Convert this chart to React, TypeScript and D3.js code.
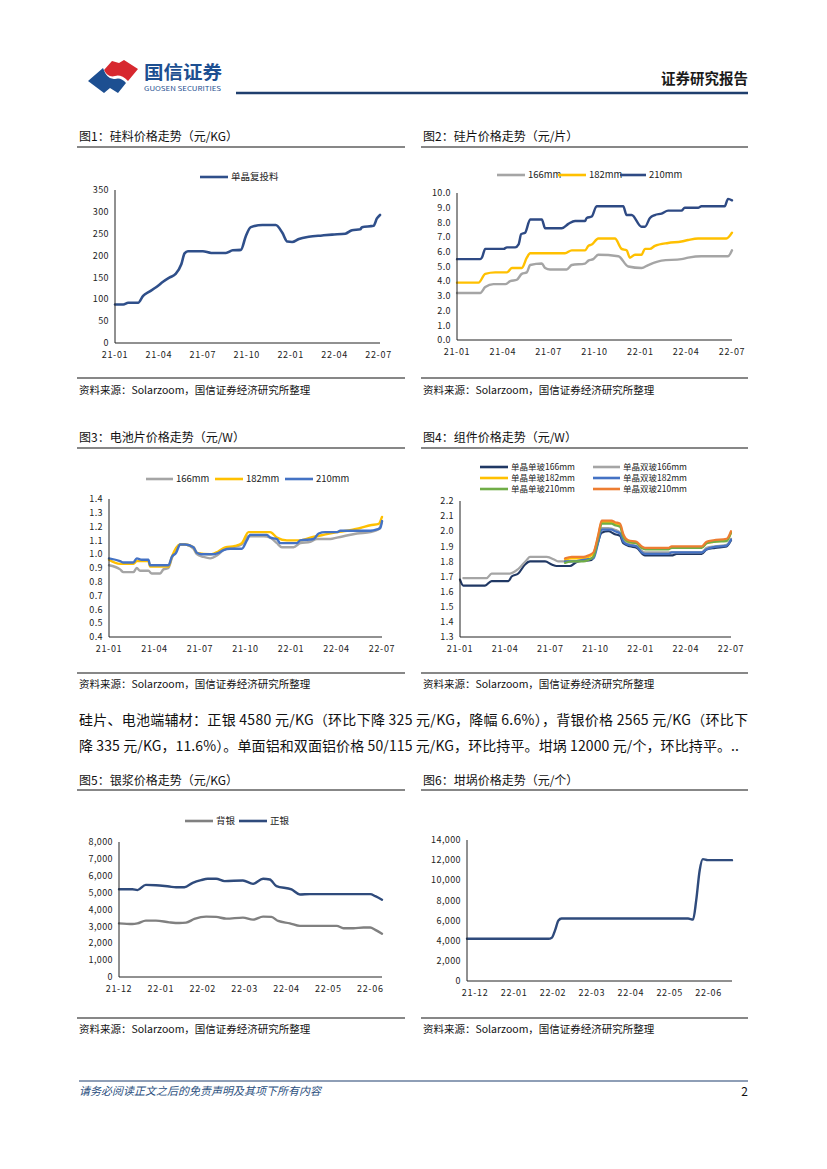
import React from 'react';
import * as d3 from 'd3';

const FONT = '"Noto Sans CJK SC", "Noto Sans", sans-serif';

type Pt = [number, number];
type Series = { name: string; color: string; data: Pt[] };

// ---------- Chart 1: 硅料 ----------
const c1XLabels = ['21-01', '21-04', '21-07', '21-10', '22-01', '22-04', '22-07'];
const c1YTicks = [0, 50, 100, 150, 200, 250, 300, 350];
const c1Mono: Pt[] = [[0, 88], [0.57, 88], [0.9, 92], [1.58, 92], [1.92, 108], [2.38, 118], [2.83, 128], [3.28, 140], [3.74, 150], [4.14, 158], [4.53, 180], [4.75, 205], [4.98, 210], [6.0, 210], [6.57, 206], [7.58, 206], [8.04, 212], [8.6, 213], [8.94, 245], [9.28, 265], [10.07, 270], [10.98, 270], [11.43, 252], [11.77, 232], [12.1, 231], [12.56, 238], [13.24, 243], [14.15, 246], [14.83, 248], [15.73, 250], [16.19, 258], [16.75, 260], [16.87, 265], [17.66, 268], [17.89, 285], [18.1, 293]];

// ---------- Chart 2: 硅片 ----------
const c2YTicks = [0, 1, 2, 3, 4, 5, 6, 7, 8, 9, 10];
const c2W166: Pt[] = [[0, 3.2], [1.52, 3.2], [1.85, 3.6], [2.39, 3.8], [3.16, 3.8], [3.48, 4.0], [3.92, 4.1], [4.24, 4.5], [4.57, 4.6], [4.79, 5.1], [5.55, 5.2], [5.77, 4.9], [6.09, 4.8], [7.18, 4.8], [7.51, 5.1], [8.38, 5.2], [8.6, 5.4], [8.92, 5.5], [9.25, 5.8], [10.56, 5.7], [11.21, 5.0], [12.08, 4.9], [12.52, 5.1], [13.39, 5.4], [14.69, 5.5], [15.13, 5.6], [16.0, 5.7], [17.74, 5.7], [18.0, 6.1]];
const c2W182: Pt[] = [[0, 3.9], [1.41, 3.9], [1.85, 4.5], [2.5, 4.6], [3.27, 4.6], [3.59, 4.9], [4.24, 4.9], [4.57, 5.6], [4.79, 5.9], [7.07, 5.9], [7.51, 6.1], [8.38, 6.1], [8.6, 6.4], [8.82, 6.5], [9.25, 6.9], [10.34, 6.9], [10.77, 6.2], [11.1, 6.1], [11.32, 5.6], [11.65, 5.8], [12.08, 5.8], [12.3, 6.2], [12.63, 6.2], [12.95, 6.4], [13.82, 6.6], [14.69, 6.7], [15.13, 6.8], [15.78, 6.9], [17.63, 6.9], [18.0, 7.3]];
const c2W210: Pt[] = [[0, 5.5], [1.52, 5.5], [1.63, 5.6], [1.85, 6.2], [3.05, 6.2], [3.27, 6.3], [3.81, 6.3], [4.03, 6.5], [4.2, 7.2], [4.46, 7.3], [4.79, 8.2], [5.55, 8.2], [5.77, 7.6], [6.86, 7.6], [7.29, 7.9], [7.73, 8.1], [8.38, 8.1], [8.49, 8.3], [8.82, 8.4], [9.14, 9.1], [10.88, 9.1], [11.1, 8.5], [11.43, 8.5], [12.08, 7.7], [12.3, 7.7], [12.63, 8.3], [12.95, 8.5], [13.39, 8.6], [13.82, 8.8], [14.69, 8.8], [14.91, 9.0], [15.78, 9.0], [16.0, 9.1], [17.52, 9.1], [17.74, 9.6], [18.0, 9.5]];

// ---------- Chart 3: 电池片 ----------
const c3YTicks = [0.4, 0.5, 0.6, 0.7, 0.8, 0.9, 1.0, 1.1, 1.2, 1.3, 1.4];
const c3C166: Pt[] = [[0, 0.92], [0.73, 0.89], [0.95, 0.87], [1.61, 0.87], [1.83, 0.9], [2.05, 0.88], [2.6, 0.88], [2.82, 0.86], [3.37, 0.86], [3.59, 0.89], [3.92, 0.9], [4.14, 0.97], [4.69, 1.07], [5.02, 1.07], [5.57, 1.04], [5.79, 1.0], [6.23, 0.98], [6.67, 0.97], [7.11, 0.99], [7.55, 1.03], [8.1, 1.05], [8.76, 1.07], [9.2, 1.13], [10.19, 1.13], [10.63, 1.12], [11.07, 1.08], [11.4, 1.05], [12.17, 1.05], [12.61, 1.08], [13.27, 1.09], [13.71, 1.11], [14.59, 1.11], [15.03, 1.12], [15.47, 1.13], [16.35, 1.15], [17.23, 1.16], [17.78, 1.18], [18.0, 1.24]];
const c3C182: Pt[] = [[0, 0.96], [0.73, 0.93], [1.61, 0.93], [1.83, 0.95], [2.6, 0.95], [2.71, 0.91], [3.92, 0.91], [4.14, 0.98], [4.69, 1.07], [5.02, 1.07], [5.57, 1.05], [5.79, 1.01], [6.67, 1.0], [7.22, 1.02], [7.66, 1.05], [8.32, 1.06], [8.76, 1.08], [9.2, 1.16], [10.63, 1.16], [11.07, 1.12], [11.73, 1.1], [12.61, 1.1], [13.27, 1.12], [14.15, 1.14], [15.03, 1.16], [15.69, 1.17], [16.13, 1.18], [16.57, 1.19], [17.23, 1.21], [17.78, 1.22], [18.0, 1.27]];
const c3C210: Pt[] = [[0, 0.97], [0.73, 0.95], [0.95, 0.94], [1.61, 0.94], [1.83, 0.97], [2.16, 0.96], [2.6, 0.96], [2.71, 0.92], [3.92, 0.92], [4.14, 0.98], [4.42, 1.01], [4.69, 1.07], [5.02, 1.07], [5.57, 1.05], [5.79, 1.01], [6.12, 1.0], [6.89, 1.0], [7.22, 1.01], [7.55, 1.03], [7.99, 1.04], [8.76, 1.04], [9.09, 1.1], [9.31, 1.14], [10.41, 1.14], [10.63, 1.12], [11.07, 1.11], [11.29, 1.08], [12.39, 1.08], [12.61, 1.1], [13.49, 1.11], [13.82, 1.15], [14.26, 1.16], [15.03, 1.16], [15.25, 1.17], [17.23, 1.17], [17.67, 1.18], [17.89, 1.19], [18.0, 1.24]];

// ---------- Chart 4: 组件 ----------
const c4YTicks = [1.3, 1.4, 1.5, 1.6, 1.7, 1.8, 1.9, 2.0, 2.1, 2.2];
const c4S166: Pt[] = [[0, 1.68], [0.22, 1.64], [1.66, 1.64], [2.1, 1.67], [3.21, 1.67], [3.43, 1.7], [3.87, 1.72], [4.32, 1.78], [4.65, 1.8], [5.65, 1.8], [6.09, 1.78], [6.42, 1.77], [7.31, 1.77], [7.64, 1.79], [7.86, 1.8], [8.74, 1.81], [9.08, 1.9], [9.41, 1.99], [9.85, 2.0], [10.29, 1.98], [10.63, 1.97], [10.85, 1.92], [11.29, 1.9], [11.73, 1.89], [12.29, 1.84], [14.06, 1.84], [14.39, 1.85], [16.05, 1.85], [16.38, 1.88], [16.94, 1.89], [17.71, 1.9], [18.0, 1.94]];
const c4D166: Pt[] = [[0.22, 1.69], [1.77, 1.69], [2.1, 1.72], [3.32, 1.72], [3.87, 1.75], [4.43, 1.81], [4.65, 1.83], [5.76, 1.83], [6.31, 1.81], [6.53, 1.8], [7.64, 1.8], [8.08, 1.81], [8.74, 1.82], [9.08, 1.92], [9.41, 2.02], [9.85, 2.02], [10.29, 2.01], [10.63, 1.99], [10.96, 1.93], [11.4, 1.91], [11.73, 1.9], [12.29, 1.86], [16.05, 1.86], [16.38, 1.89], [16.94, 1.9], [17.71, 1.91], [18.0, 1.95]];
const c4S182: Pt[] = [[6.97, 1.81], [7.42, 1.82], [8.19, 1.82], [8.52, 1.83], [8.86, 1.85], [9.19, 1.97], [9.41, 2.06], [10.07, 2.06], [10.29, 2.05], [10.63, 2.04], [10.85, 1.97], [11.18, 1.93], [11.73, 1.92], [12.07, 1.89], [12.29, 1.885], [13.84, 1.885], [14.06, 1.895], [16.05, 1.895], [16.38, 1.92], [16.83, 1.93], [17.71, 1.94], [18.0, 1.99]];
const c4D182: Pt[] = [[6.97, 1.8], [7.42, 1.8], [8.19, 1.81], [8.52, 1.815], [8.86, 1.82], [9.19, 1.93], [9.41, 2.01], [10.07, 2.01], [10.29, 2.0], [10.63, 1.985], [10.85, 1.93], [11.18, 1.91], [11.73, 1.9], [12.07, 1.86], [12.29, 1.85], [13.84, 1.85], [14.06, 1.86], [16.05, 1.86], [16.38, 1.88], [16.83, 1.895], [17.71, 1.905], [18.0, 1.945]];
const c4S210: Pt[] = [[6.97, 1.79], [7.42, 1.8], [8.19, 1.8], [8.52, 1.81], [8.86, 1.83], [9.19, 1.96], [9.41, 2.05], [10.07, 2.05], [10.29, 2.04], [10.63, 2.03], [10.85, 1.96], [11.18, 1.93], [11.73, 1.92], [12.07, 1.89], [12.29, 1.88], [13.84, 1.88], [14.06, 1.89], [16.05, 1.89], [16.38, 1.92], [16.83, 1.93], [17.71, 1.935], [18.0, 1.99]];
const c4D210: Pt[] = [[6.97, 1.82], [7.42, 1.83], [8.19, 1.83], [8.52, 1.84], [8.86, 1.86], [9.19, 1.98], [9.41, 2.07], [10.07, 2.07], [10.29, 2.06], [10.63, 2.05], [10.85, 1.98], [11.18, 1.94], [11.73, 1.93], [12.07, 1.9], [12.29, 1.89], [13.84, 1.89], [14.06, 1.9], [16.05, 1.9], [16.38, 1.93], [16.83, 1.94], [17.71, 1.95], [18.0, 2.0]];

// ---------- Chart 5: 银浆 ----------
const c5XLabels = ['21-12', '22-01', '22-02', '22-03', '22-04', '22-05', '22-06'];
const c5YTicks = [0, 1000, 2000, 3000, 4000, 5000, 6000, 7000, 8000];
const c5Back: Pt[] = [[0, 3180], [0.32, 3140], [0.44, 3180], [0.64, 3340], [0.88, 3340], [1.2, 3240], [1.44, 3200], [1.6, 3220], [1.8, 3440], [2.08, 3580], [2.32, 3560], [2.56, 3460], [2.96, 3520], [3.2, 3400], [3.44, 3580], [3.64, 3560], [3.8, 3320], [4.08, 3180], [4.32, 3030], [5.2, 3030], [5.36, 2890], [5.6, 2890], [5.84, 2930], [6.0, 2930], [6.12, 2790], [6.28, 2565]];
const c5Front: Pt[] = [[0, 5200], [0.32, 5200], [0.44, 5150], [0.64, 5460], [0.88, 5440], [1.2, 5360], [1.36, 5320], [1.56, 5320], [1.76, 5580], [1.96, 5740], [2.12, 5820], [2.32, 5820], [2.52, 5680], [2.96, 5720], [3.2, 5520], [3.44, 5820], [3.6, 5780], [3.76, 5380], [4.12, 5190], [4.32, 4890], [4.56, 4910], [6.0, 4910], [6.12, 4790], [6.28, 4580]];

// ---------- Chart 6: 坩埚 ----------
const c6YTicks = [0, 2000, 4000, 6000, 8000, 10000, 12000, 14000];
const c6Crucible: Pt[] = [[-0.21, 4200], [1.88, 4200], [1.97, 4300], [2.05, 5000], [2.14, 6000], [2.22, 6200], [5.47, 6200], [5.6, 6100], [5.68, 8000], [5.77, 11000], [5.85, 12100], [5.98, 12000], [6.6, 12000]];

const SOURCE = '资料来源：Solarzoom，国信证券经济研究所整理';

type LegendItem = { x: number; y: number; len: number };

type ChartProps = {
  left: number; right: number; bottom: number; top: number;
  xDomain: [number, number]; yDomain: [number, number];
  yTicks: number[]; yFmt: (v: number) => string;
  xTickVals: number[]; xLabels: string[];
  series: Series[]; legend?: LegendItem[]; strokeWidth?: number; legendFont?: number;
};

function LineChart(p: ChartProps) {
  const xs = d3.scaleLinear().domain(p.xDomain).range([p.left, p.right]);
  const ys = d3.scaleLinear().domain(p.yDomain).range([p.bottom, p.top]);
  const line = d3.line<Pt>().x(d => xs(d[0])).y(d => ys(d[1])).curve(d3.curveMonotoneX);
  const lf = p.legendFont ?? 9.5;
  return (
    <g>
      {p.series.map(s => (
        <path key={s.name} d={line(s.data) || ''} fill="none" stroke={s.color}
          strokeWidth={p.strokeWidth ?? 2.4} strokeLinejoin="round" strokeLinecap="round" />
      ))}
      <line x1={p.left} x2={p.left} y1={ys(p.yDomain[1])} y2={p.bottom} stroke="#222" strokeWidth={1} />
      <line x1={p.left} x2={p.right} y1={p.bottom} y2={p.bottom} stroke="#222" strokeWidth={1} />
      {p.yTicks.map(v => (
        <text key={'y' + v} x={p.left - 6} y={ys(v) + 3.2} textAnchor="end" fontSize={9}
          fontFamily={FONT} fill="#222" letterSpacing={0.4}>{p.yFmt(v)}</text>
      ))}
      {p.xTickVals.map((v, i) => (
        <text key={'x' + v} x={xs(v)} y={p.bottom + 15} textAnchor="middle" fontSize={9}
          fontFamily={FONT} fill="#222" letterSpacing={0.7}>{p.xLabels[i]}</text>
      ))}
      {p.legend && p.series.map((s, i) => {
        const L = p.legend![i];
        if (!L) return null;
        return (
          <g key={'lg' + s.name}>
            <line x1={L.x} x2={L.x + L.len} y1={L.y} y2={L.y} stroke={s.color} strokeWidth={2.6} />
            <text x={L.x + L.len + 3} y={L.y + lf * 0.36} fontSize={lf} fontFamily={FONT} fill="#222">{s.name}</text>
          </g>
        );
      })}
    </g>
  );
}

function Frame({ x1, x2, titleY, lineY, srcLineY, srcY, title }: { x1: number; x2: number; titleY: number; lineY: number; srcLineY: number; srcY: number; title: string }) {
  return (
    <g>
      <text x={x1 + 2} y={titleY} fontSize={12} fontFamily={FONT} fill="#111">{title}</text>
      <line x1={x1} x2={x2} y1={lineY} y2={lineY} stroke="#111" strokeWidth={1.2} />
      <line x1={x1} x2={x2} y1={srcLineY} y2={srcLineY} stroke="#111" strokeWidth={1.2} />
      <text x={x1 + 2} y={srcY} fontSize={10.5} fontFamily={FONT} fill="#111">{SOURCE}</text>
    </g>
  );
}

const q = [0, 3, 6, 9, 12, 15, 18];
const dec1 = (v: number) => v.toFixed(1);
const thous = (v: number) => d3.format(',')(v);

export default function App() {
  const L1 = 77, R1 = 405, L2 = 421, R2 = 748;
  return (
    <svg width={827} height={1169} style={{ position: 'absolute', left: 0, top: 0, background: '#fff' }}>
      <rect x={0} y={0} width={827} height={1169} fill="#fff" />
      {/* header */}
      <path d="M 104 70 L 112 61 L 119 63 L 124 60 L 138 69 L 128 81 Q 121 74 115 76 Q 108 78 104 70 Z" fill="#D7282F" />
      <path d="M 88 81 L 103 68 Q 107 80 115 79 Q 121 77 126 83 L 118 93 L 110 88 L 104 93 Z" fill="#1D4F91" />
      <text x={144} y={79} fontSize={18} fontWeight={700} fontFamily={FONT} fill="#1D4F91" textLength={78} lengthAdjust="spacingAndGlyphs">国信证券</text>
      <text x={144} y={91} fontSize={6.5} fontFamily={FONT} fill="#1D4F91" textLength={77} lengthAdjust="spacingAndGlyphs">GUOSEN SECURITIES</text>
      <text x={748} y={84} textAnchor="end" fontSize={14.5} fontWeight={700} fontFamily={FONT} fill="#1a1a1a">证券研究报告</text>
      <line x1={236} x2={748} y1={93} y2={93} stroke="#1F3F6E" strokeWidth={2.5} />

      {/* figure frames */}
      <Frame x1={L1} x2={R1} titleY={141} lineY={147} srcLineY={378} srcY={394} title="图1：硅料价格走势（元/KG）" />
      <Frame x1={L2} x2={R2} titleY={141} lineY={147} srcLineY={378} srcY={394} title="图2：硅片价格走势（元/片）" />
      <Frame x1={L1} x2={R1} titleY={442} lineY={448} srcLineY={673} srcY={688} title="图3：电池片价格走势（元/W）" />
      <Frame x1={L2} x2={R2} titleY={442} lineY={448} srcLineY={673} srcY={688} title="图4：组件价格走势（元/W）" />
      <Frame x1={L1} x2={R1} titleY={785} lineY={790} srcLineY={1018} srcY={1033} title="图5：银浆价格走势（元/KG）" />
      <Frame x1={L2} x2={R2} titleY={785} lineY={790} srcLineY={1018} srcY={1033} title="图6：坩埚价格走势（元/个）" />

      {/* chart 1 */}
      <LineChart left={115} right={380} bottom={343} top={190} xDomain={[0, 18.1]} yDomain={[0, 350]}
        yTicks={c1YTicks} yFmt={v => String(v)} xTickVals={q} xLabels={c1XLabels}
        series={[{ name: '单晶复投料', color: '#2F4F8A', data: c1Mono }]}
        legend={[{ x: 200, y: 177, len: 28 }]} strokeWidth={2.6} />

      {/* chart 2 */}
      <LineChart left={457} right={732} bottom={340} top={193} xDomain={[0, 18]} yDomain={[0, 10]}
        yTicks={c2YTicks} yFmt={dec1} xTickVals={q} xLabels={c1XLabels}
        series={[
          { name: '166mm', color: '#A5A5A5', data: c2W166 },
          { name: '182mm', color: '#FFC000', data: c2W182 },
          { name: '210mm', color: '#2E4A84', data: c2W210 },
        ]}
        legend={[{ x: 497, y: 175, len: 28 }, { x: 558, y: 175, len: 28 }, { x: 620, y: 175, len: 26 }]} />

      {/* chart 3 */}
      <LineChart left={109} right={382} bottom={637} top={499} xDomain={[0, 18]} yDomain={[0.4, 1.4]}
        yTicks={c3YTicks} yFmt={dec1} xTickVals={q} xLabels={c1XLabels}
        series={[
          { name: '166mm', color: '#A5A5A5', data: c3C166 },
          { name: '182mm', color: '#FFC000', data: c3C182 },
          { name: '210mm', color: '#4472C4', data: c3C210 },
        ]}
        legend={[{ x: 146, y: 479, len: 27 }, { x: 215, y: 479, len: 28 }, { x: 285, y: 479, len: 28 }]} />

      {/* chart 4 */}
      <LineChart left={460} right={731} bottom={637} top={501} xDomain={[0, 18]} yDomain={[1.3, 2.2]}
        yTicks={c4YTicks} yFmt={dec1} xTickVals={q} xLabels={c1XLabels}
        series={[
          { name: '单晶单玻166mm', color: '#203864', data: c4S166 },
          { name: '单晶双玻166mm', color: '#A5A5A5', data: c4D166 },
          { name: '单晶单玻182mm', color: '#FFC000', data: c4S182 },
          { name: '单晶双玻182mm', color: '#4472C4', data: c4D182 },
          { name: '单晶单玻210mm', color: '#70AD47', data: c4S210 },
          { name: '单晶双玻210mm', color: '#ED7D31', data: c4D210 },
        ]}
        legend={[
          { x: 480, y: 467, len: 28 }, { x: 593, y: 467, len: 27 },
          { x: 480, y: 478, len: 28 }, { x: 593, y: 478, len: 27 },
          { x: 480, y: 489, len: 28 }, { x: 593, y: 489, len: 27 },
        ]} strokeWidth={2.2} legendFont={8.5} />

      {/* paragraph */}
      <text x={79} y={725} fontSize={14} fontFamily={FONT} fill="#111" textLength={669} lengthAdjust="spacing">硅片、电池端辅材：正银 4580 元/KG（环比下降 325 元/KG，降幅 6.6%），背银价格 2565 元/KG（环比下</text>
      <text x={79} y={751} fontSize={14} fontFamily={FONT} fill="#111" textLength={660} lengthAdjust="spacing">降 335 元/KG，11.6%）。单面铝和双面铝价格 50/115 元/KG，环比持平。坩埚 12000 元/个，环比持平。..</text>

      {/* chart 5 */}
      <LineChart left={119} right={382} bottom={977} top={842} xDomain={[0, 6.28]} yDomain={[0, 8000]}
        yTicks={c5YTicks} yFmt={thous} xTickVals={[0, 1, 2, 3, 4, 5, 6]} xLabels={c5XLabels}
        series={[
          { name: '背银', color: '#808080', data: c5Back },
          { name: '正银', color: '#2F4B7C', data: c5Front },
        ]}
        legend={[{ x: 185, y: 821, len: 28 }, { x: 239, y: 821, len: 28 }]} />

      {/* chart 6 */}
      <LineChart left={467} right={732} bottom={981} top={840} xDomain={[-0.21, 6.6]} yDomain={[0, 14000]}
        yTicks={c6YTicks} yFmt={thous} xTickVals={[0, 1, 2, 3, 4, 5, 6]} xLabels={c5XLabels}
        series={[{ name: '坩埚', color: '#2F4B7C', data: c6Crucible }]} />

      {/* footer */}
      <line x1={79} x2={748} y1={1081} y2={1081} stroke="#1F3F6E" strokeWidth={1.2} />
      <text x={79} y={1095} fontSize={11} fontStyle="italic" fontFamily={FONT} fill="#2B4F80">请务必阅读正文之后的免责声明及其项下所有内容</text>
      <text x={748} y={1096} textAnchor="end" fontSize={12} fontFamily={FONT} fill="#111">2</text>
    </svg>
  );
}
